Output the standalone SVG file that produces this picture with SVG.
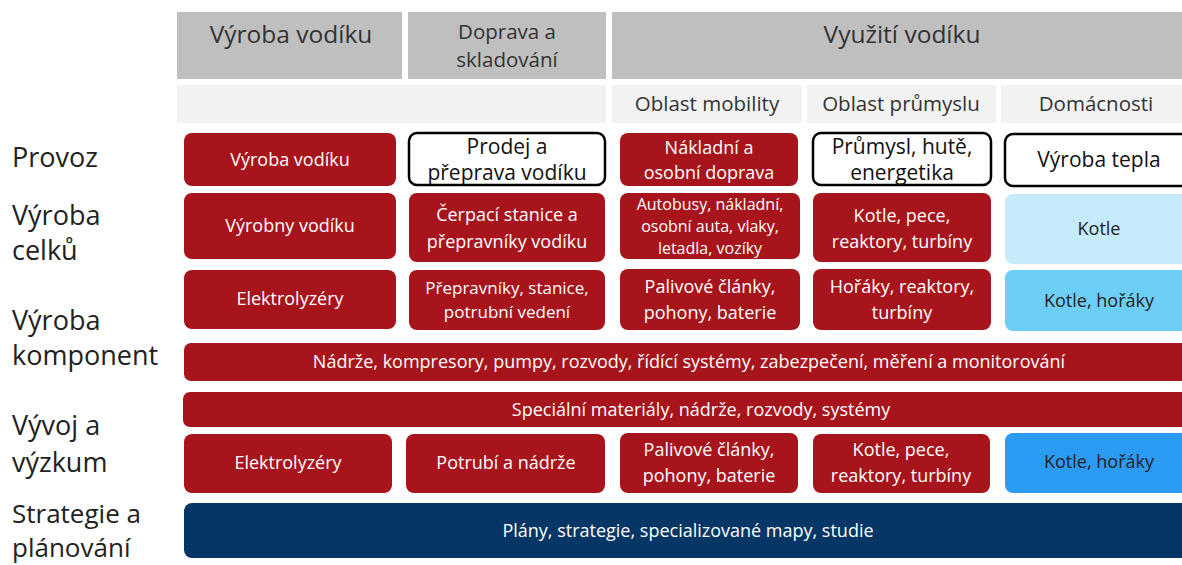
<svg xmlns="http://www.w3.org/2000/svg" width="1182" height="565" viewBox="0 0 1182 565">
<style>
.hd{fill:#BFBFBF}
.sh{fill:#F2F2F2}
.red{fill:#A8141C}
.out{fill:#fff;stroke:#000;stroke-width:2.5}
.lb1{fill:#C6EBFB}
.lb2{fill:#6DCFF6}
.lb3{fill:#2B9BF4}
.navy{fill:#063665}
text{font-family:"Open Sans","Noto Sans","Liberation Sans",sans-serif;text-anchor:middle}
.ht{font-size:24.5px;fill:#333}
.st{font-size:20.5px;fill:#333}
.rl{font-size:27px;fill:#222;text-anchor:start}
.rs{font-size:26px}
.wt{font-size:18px;fill:#fff}
.wt2{font-size:16px;fill:#fff}
.wt3{font-size:17px;fill:#fff}
.bt{font-size:21px;fill:#111}
.dt{font-size:18px;fill:#222}
</style>
<rect width="1182" height="565" fill="#fff"/>
<g id="headers">
<rect class="hd" x="177" y="12" width="225" height="67"/>
<text class="ht" x="291" y="43">Výroba vodíku</text>
<rect class="hd" x="408" y="12" width="198" height="67"/>
<text class="st" x="507" y="39">Doprava a</text>
<text class="st" x="507" y="67">skladování</text>
<rect class="hd" x="612" y="12" width="570" height="67"/>
<text class="ht" x="902" y="43">Využití vodíku</text>
<rect class="sh" x="177" y="85" width="429" height="38"/>
<rect class="sh" x="612" y="85" width="190" height="38"/>
<text class="st" x="707" y="111">Oblast mobility</text>
<rect class="sh" x="807" y="85" width="189" height="38"/>
<text class="st" x="901" y="111">Oblast průmyslu</text>
<rect class="sh" x="1001" y="85" width="181" height="38"/>
<text class="st" x="1096" y="111">Domácnosti</text>
</g>
<g id="row-labels">
<text class="rl" x="12" y="167">Provoz</text>
<text class="rl" x="12" y="225">Výroba</text>
<text class="rl" x="12" y="260">celků</text>
<text class="rl" x="12" y="330">Výroba</text>
<text class="rl" x="12" y="365">komponent</text>
<text class="rl" x="12" y="435">Vývoj a</text>
<text class="rl" x="12" y="472">výzkum</text>
<text class="rl rs" x="12" y="523">Strategie a</text>
<text class="rl rs" x="12" y="557">plánování</text>
</g>
<g id="provoz">
<g id="p1"><rect class="red" x="184" y="133" width="212" height="53" rx="8"/><text class="wt" x="290" y="166">Výroba vodíku</text></g>
<g id="p2"><rect class="out" x="409" y="133" width="196" height="52" rx="8"/><text class="bt" x="507" y="154">Prodej a</text><text class="bt" x="507" y="180">přeprava vodíku</text></g>
<g id="p3"><rect class="red" x="620" y="133" width="178" height="53" rx="8"/><text class="wt" x="709" y="154">Nákladní a</text><text class="wt" x="709" y="179">osobní doprava</text></g>
<g id="p4"><rect class="out" x="813" y="133" width="178" height="52" rx="8"/><text class="bt" x="902" y="154">Průmysl, hutě,</text><text class="bt" x="902" y="180">energetika</text></g>
<g id="p5"><rect class="out" x="1005" y="134" width="190" height="52" rx="8"/><text class="bt" x="1099" y="167">Výroba tepla</text></g>
</g>
<g id="vyroba-celku">
<g id="c1"><rect class="red" x="184" y="193" width="212" height="66" rx="8"/><text class="wt" x="290" y="232">Výrobny vodíku</text></g>
<g id="c2"><rect class="red" x="409" y="193" width="196" height="69" rx="8"/><text class="wt" x="507" y="221">Čerpací stanice a</text><text class="wt" x="507" y="248">přepravníky vodíku</text></g>
<g id="c3"><rect class="red" x="620" y="193" width="180" height="66" rx="8"/><text class="wt2" x="710" y="210">Autobusy, nákladní,</text><text class="wt2" x="710" y="232">osobní auta, vlaky,</text><text class="wt2" x="710" y="254">letadla, vozíky</text></g>
<g id="c4"><rect class="red" x="813" y="193" width="178" height="69" rx="8"/><text class="wt" x="902" y="222">Kotle, pece,</text><text class="wt" x="902" y="248">reaktory, turbíny</text></g>
<g id="c5"><rect class="lb1" x="1005" y="194" width="190" height="70" rx="8"/><text class="dt" x="1099" y="235">Kotle</text></g>
</g>
<g id="vyroba-komponent">
<g id="k1"><rect class="red" x="184" y="270" width="212" height="59" rx="8"/><text class="wt" x="290" y="305">Elektrolyzéry</text></g>
<g id="k2"><rect class="red" x="409" y="270" width="196" height="60" rx="8"/><text class="wt3" x="507" y="294">Přepravníky, stanice,</text><text class="wt3" x="507" y="318">potrubní vedení</text></g>
<g id="k3"><rect class="red" x="620" y="269" width="180" height="61" rx="8"/><text class="wt" x="710" y="293">Palivové články,</text><text class="wt" x="710" y="319">pohony, baterie</text></g>
<g id="k4"><rect class="red" x="813" y="269" width="178" height="61" rx="8"/><text class="wt" x="902" y="293">Hořáky, reaktory,</text><text class="wt" x="902" y="319">turbíny</text></g>
<g id="k5"><rect class="lb2" x="1005" y="270" width="190" height="61" rx="8"/><text class="dt" x="1099" y="307">Kotle, hořáky</text></g>
<g id="k6"><rect class="red" x="184" y="343" width="1011" height="38" rx="7"/><text class="wt" x="689" y="368">Nádrže, kompresory, pumpy, rozvody, řídící systémy, zabezpečení, měření a monitorování</text></g>
</g>
<g id="vyvoj">
<g id="v1"><rect class="red" x="183" y="392" width="1012" height="35" rx="7"/><text class="wt" x="701" y="416">Speciální materiály, nádrže, rozvody, systémy</text></g>
<g id="v2"><rect class="red" x="184" y="434" width="208" height="59" rx="8"/><text class="wt" x="288" y="469">Elektrolyzéry</text></g>
<g id="v3"><rect class="red" x="406" y="434" width="199" height="59" rx="8"/><text class="wt" x="506" y="469">Potrubí a nádrže</text></g>
<g id="v4"><rect class="red" x="620" y="433" width="178" height="60" rx="8"/><text class="wt" x="709" y="456">Palivové články,</text><text class="wt" x="709" y="482">pohony, baterie</text></g>
<g id="v5"><rect class="red" x="813" y="434" width="177" height="59" rx="8"/><text class="wt" x="901" y="456">Kotle, pece,</text><text class="wt" x="901" y="482">reaktory, turbíny</text></g>
<g id="v6"><rect class="lb3" x="1005" y="433" width="190" height="60" rx="8"/><text class="dt" x="1099" y="468">Kotle, hořáky</text></g>
</g>
<g id="strategie">
<rect class="navy" x="184" y="503" width="1011" height="55" rx="8"/><text class="wt" x="688" y="537">Plány, strategie, specializované mapy, studie</text>
</g>
<g id="connectors"/>
</svg>
